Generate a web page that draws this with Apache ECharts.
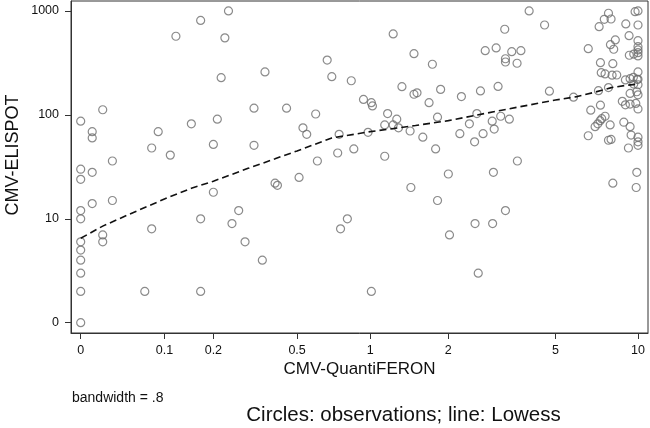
<!DOCTYPE html>
<html>
<head>
<meta charset="utf-8">
<script src="https://cdn.jsdelivr.net/npm/echarts@6/dist/echarts.min.js"></script>
<style>
html,body{margin:0;padding:0;background:#fff;}
#chart{width:650px;height:428px;}
</style>
</head>
<body>
<div id="chart"></div>
<script>
// Tick labels
const xTickVals = [0, 0.1, 0.2, 0.5, 1, 2, 5, 10];
const yTickVals = [0, 10, 100, 1000];

// Observations: CMV-QuantiFERON (x) and CMV-ELISPOT (y)
const obsQuantiferon = [
  0.12, 0.02, 0, 0.01, 0.01, 0.09, 0.08, 0.11, 0.03, 0, 0.01, 0, 0.01, 0.03, 0, 0, 0.02, 0.02, 0.08, 0, 0, 0, 0, 0, 0.07, 0,
  0.24, 0.17, 0.23, 0.22, 0.36, 0.32, 0.45, 0.15, 0.21, 0.20, 0.32,
  0.20, 0.17, 0.27, 0.25, 0.29, 0.35, 0.17, 0.40, 0.41, 0.51,
  1.23, 1.48, 0.67, 0.70, 0.84, 1.33, 1.48, 1.52, 0.94, 1.01, 1.02, 0.60, 1.17, 1.27, 0.53, 0.55, 1.14, 1.23, 1.29, 1.43, 0.75, 0.98, 1.60, 0.86, 0.74, 0.61, 1.14,
  1.44, 0.81, 0.76, 1.01,
  4.00, 3.25, 2.75, 3.02, 3.45, 3.73, 3.27, 3.27, 3.61, 1.74, 4.56, 1.87, 2.64, 3.07, 2.24, 1.69, 1.82, 2.56, 3.14, 3.38, 2.92, 2.40, 2.97, 2.21, 2.70, 2.51, 1.79, 3.62, 2.00, 2.95,
  1.82, 3.27, 2.52, 2.93, 2.02, 2.59,
  6.59, 7.81, 7.54, 7.98, 7.22, 9.03, 9.76, 10, 10, 8.27, 7.94, 8.16, 9.28, 10, 10, 10, 10, 10, 9.30, 9.65,
  7.30, 8.10, 7.35, 7.59, 8.05, 8.37, 10, 9.0, 9.36, 9.62, 9.93, 10, 9.65, 10, 9.36, 9.9, 10, 4.75, 7.18, 7.81,
  5.82, 8.77, 9.0, 9.36, 9.82, 10, 7.30, 6.73, 7.59, 7.38, 7.28, 7.14, 6.98, 7.92, 6.59, 8.88, 9.36, 9.44, 10, 10,
  10, 7.81, 7.98, 9.23, 9.9, 8.10, 9.85
];
const obsElispot = [
  570, 111, 86, 68, 59, 68, 47, 40, 35, 29, 27, 23, 13, 14, 11, 9, 6, 5, 7, 5, 4, 3, 2, 1, 1, 0,
  1000, 810, 550, 227, 258, 115, 115, 81, 90, 51, 50,
  17, 9, 11, 8, 5, 3, 1, 21, 20, 24,
  600, 387, 336, 232, 212, 186, 157, 162, 140, 130, 121, 101, 102, 90, 74, 64, 79, 79, 74, 69, 64, 67, 60, 46, 42, 35, 39,
  19, 9, 7, 1,
  1000, 666, 414, 440, 405, 414, 346, 322, 313, 306, 732, 175, 169, 187, 149, 130, 94, 102, 96, 90, 86, 81, 72, 65, 65, 54, 46, 35, 26, 27,
  14, 11, 8, 8, 6, 2,
  433, 950, 831, 836, 705, 749, 984, 1000, 732, 525, 473, 427, 577, 517, 452, 421, 396, 368, 374, 384,
  317, 310, 254, 247, 240, 241, 258, 216, 222, 229, 219, 219, 197, 194, 160, 166, 155, 168, 170, 182,
  147, 134, 124, 126, 128, 113, 123, 110, 96, 91, 87, 81, 76, 79, 62, 84, 76, 63, 60, 54,
  50, 56, 57, 47, 27, 21, 19
];

// Lowess curve
const lowessQuantiferon = [0, 0.02, 0.05, 0.1, 0.15, 0.2, 0.3, 0.4, 0.5, 0.7, 1, 1.5, 2, 3, 4, 5, 6, 7, 8, 9, 10];
const lowessElispot = [5.5, 7.5, 10.1, 14.5, 18.7, 22, 29.6, 36.8, 44, 59, 68, 78, 87, 107, 123.5, 138, 149, 165, 182, 191, 197];

// Axis transforms (log scales with offsets, as in the original)
const tx = v => Math.log10(v + 0.1);
const ty = v => Math.log10(v + 1);
const yTickPos = v => (v === 0 ? 0 : Math.log10(v));

const FONT = '"Liberation Sans", Arial, Helvetica, sans-serif';

const xTickPositions = xTickVals.map(tx);
const yTickPositions = yTickVals.map(yTickPos);

function labelFor(positions, vals, value) {
  for (let i = 0; i < positions.length; i++) {
    if (Math.abs(positions[i] - value) < 1e-6) return String(vals[i]);
  }
  return '';
}

const scatterData = obsQuantiferon.map((q, i) => [tx(q), ty(obsElispot[i])]);
const lowessData = lowessQuantiferon.map((q, i) => [tx(q), ty(lowessElispot[i])]);

const chart = echarts.init(document.getElementById('chart'), null, {renderer: 'canvas'});
chart.setOption({
  animation: false,
  backgroundColor: '#fff',
  grid: {left: 71, right: 2, top: 1, bottom: 95, show: true, borderColor: '#333', borderWidth: 1},
  xAxis: {
    type: 'value', min: -1.0349, max: 1.0403,
    splitLine: {show: false},
    axisLine: {onZero: false, lineStyle: {color: '#333', width: 1}},
    axisTick: {customValues: xTickPositions, length: 6, lineStyle: {color: '#333'}},
    axisLabel: {
      customValues: xTickPositions, margin: 11, fontSize: 12.5, color: '#111', fontFamily: FONT,
      formatter: v => labelFor(xTickPositions, xTickVals, v)
    }
  },
  yAxis: {
    type: 'value', min: -0.099, max: 3.096,
    splitLine: {show: false},
    axisLine: {show: true, onZero: false, lineStyle: {color: '#333', width: 1}},
    axisTick: {show: true, customValues: yTickPositions, length: 6, lineStyle: {color: '#333'}},
    axisLabel: {
      customValues: yTickPositions, margin: 12, fontSize: 12.5, color: '#111', fontFamily: FONT,
      formatter: v => labelFor(yTickPositions, yTickVals, v)
    }
  },
  series: [
    {
      type: 'scatter', data: scatterData, symbol: 'circle', symbolSize: 8,
      itemStyle: {color: 'rgba(0,0,0,0)', borderColor: '#6e6e6e', borderWidth: 1.2},
      emphasis: {disabled: true}
    },
    {
      type: 'line', data: lowessData, showSymbol: false, smooth: false,
      lineStyle: {color: '#111', width: 1.6, type: [7, 4]},
      emphasis: {disabled: true}
    }
  ],
  graphic: [
    {type: 'text', x: 13, y: 155, rotation: Math.PI / 2,
     style: {text: 'CMV-ELISPOT', fontSize: 18, fontFamily: FONT, fill: '#111', textAlign: 'center', textVerticalAlign: 'middle'}},
    {type: 'text', x: 359.5, y: 369,
     style: {text: 'CMV-QuantiFERON', fontSize: 17, fontFamily: FONT, fill: '#111', textAlign: 'center', textVerticalAlign: 'middle'}},
    {type: 'text', x: 72, y: 398,
     style: {text: 'bandwidth = .8', fontSize: 14, fontFamily: FONT, fill: '#111', textAlign: 'left', textVerticalAlign: 'middle'}},
    {type: 'text', x: 403.5, y: 415,
     style: {text: 'Circles: observations; line: Lowess', fontSize: 20.5, fontFamily: FONT, fill: '#111', textAlign: 'center', textVerticalAlign: 'middle'}}
  ]
});
</script>
</body>
</html>
